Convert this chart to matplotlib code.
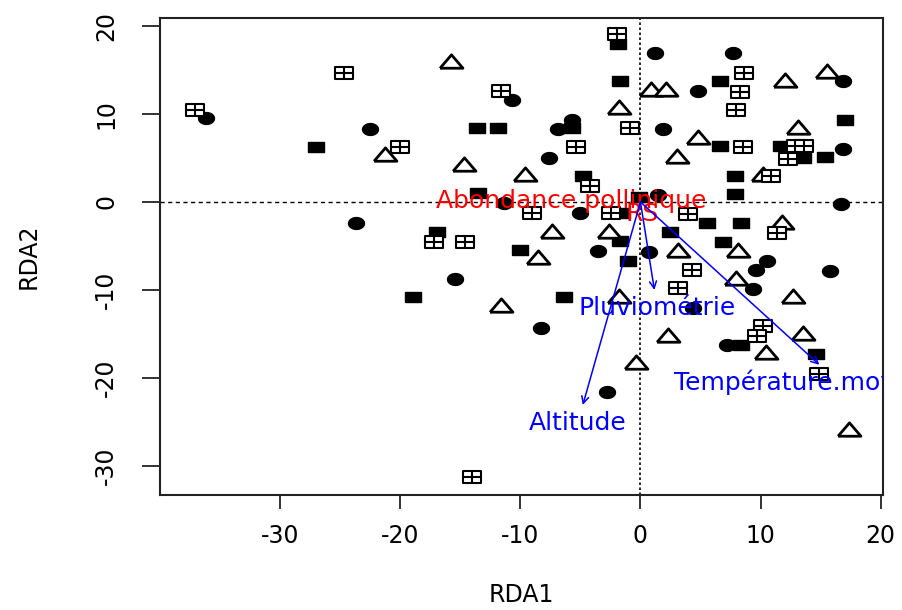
import numpy as np
import matplotlib.pyplot as plt
from matplotlib.path import Path

plt.rcParams['font.family'] = ['DejaVu Sans']
plt.rcParams['axes.unicode_minus'] = False

# site scores, one list pair per symbol group
circle_x = [-36.2, -22.5, -10.7, -6.9, -5.7, -7.6, 1.25, 7.7, 4.8, 16.9, 1.9, 16.9, 16.7, 1.45,
            -11.4, -5.0, 0.75, -3.5, -15.4, -8.25, -23.7, 10.5, 9.6, 15.8, 9.4, 4.4, 7.2, -2.8]
circle_y = [9.5, 8.3, 11.6, 8.3, 9.3, 5.0, 16.9, 16.9, 12.6, 13.7, 8.3, 6.0, -0.2, 0.8,
            -0.15, -1.3, -5.65, -5.6, -8.75, -14.3, -2.4, -6.7, -7.7, -7.85, -9.9, -12.0, -16.25, -21.6]

square_x = [-27.0, -1.9, -1.7, -13.6, -11.9, -5.7, -4.8, -13.5, 6.65, 17.0, 6.65, 11.7, 13.5, 15.4,
            7.9, 7.9, -1.5, -0.1, -16.9, -10.0, -1.7, -1.0, -18.9, -6.4, 5.5, 8.4, 2.5, 6.85, 8.4, 14.65]
square_y = [6.2, 18.0, 13.75, 8.45, 8.45, 8.4, 3.0, 1.0, 13.7, 9.3, 6.3, 6.3, 5.0, 5.15,
            3.0, 0.9, -1.3, 0.6, -3.4, -5.45, -4.4, -6.7, -10.8, -10.8, -2.4, -2.4, -3.45, -4.5, -16.25, -17.3]

tri_x = [-21.3, -15.8, -1.75, 0.9, 2.1, -14.7, -9.6, 12.05, 15.5, 4.8, 13.1, 3.05, 10.2, -7.4,
         -2.6, -8.5, -11.6, -1.75, -0.35, 11.8, 3.1, 8.15, 7.95, 12.7, 2.3, 13.5, 10.45, 17.4]
tri_y = [5.3, 15.9, 10.65, 12.7, 12.7, 4.2, 3.1, 13.75, 14.8, 7.3, 8.4, 5.15, 3.1, -3.4,
         -3.4, -6.4, -11.8, -10.8, -18.3, -2.35, -5.55, -5.55, -8.8, -10.75, -15.2, -15.0, -17.2, -25.9]

boxplus_x = [-37.1, -24.7, -20.0, -1.94, -11.6, -0.9, -5.4, -4.2, 8.65, 8.3, 7.95, 8.5, 12.95, 13.6,
             12.25, 10.85, -9.0, -2.45, -17.2, -14.6, 4.0, 11.35, 4.3, 3.1, 10.2, 9.7, 14.9, -14.05]
boxplus_y = [10.45, 14.7, 6.2, 19.06, 12.6, 8.4, 6.2, 1.85, 14.6, 12.5, 10.45, 6.2, 6.3, 6.3,
             4.9, 2.9, -1.3, -1.3, -4.5, -4.5, -1.4, -3.5, -7.7, -9.8, -14.1, -15.2, -19.6, -31.25]

# species scores (red)
species = ['Abondance pollinique', 'RS']
species_x = [-5.75, 0.1]
species_y = [0.1, -1.4]

# environmental arrows (blue)
env_names = ['Pluviométrie', 'Altitude', 'Température.moyenne']
env_x = [1.16, -4.8, 14.9]
env_y = [-10.0, -23.07, -18.5]
env_lab_x = [1.43, -5.2, 14.6]
env_lab_y = [-12.05, -25.1, -20.45]

# marker shapes (the original output is stretched horizontally)
theta = np.linspace(0, 2 * np.pi, 41)
ellipse = Path(np.column_stack([0.7 * np.cos(theta), 0.52 * np.sin(theta)]))
rect = Path([(-0.75, -0.5), (0.75, -0.5), (0.75, 0.5), (-0.75, 0.5), (-0.75, -0.5)])
tri = Path([(-0.9, -0.45), (0.9, -0.45), (0, 0.6), (-0.9, -0.45)])
bp_verts = [(-0.75, -0.5), (0.75, -0.5), (0.75, 0.5), (-0.75, 0.5), (-0.75, -0.5),
            (-0.75, 0), (0.75, 0), (0, -0.5), (0, 0.5)]
bp_codes = [Path.MOVETO, Path.LINETO, Path.LINETO, Path.LINETO, Path.CLOSEPOLY,
            Path.MOVETO, Path.LINETO, Path.MOVETO, Path.LINETO]
boxplus = Path(bp_verts, bp_codes)

fig = plt.figure(figsize=(9.02, 6.1), dpi=100)
ax = fig.add_axes([0.1774, 0.1885, 0.8016, 0.782])

ax.axhline(0, color='black', lw=1.0, ls=(0, (3, 2.5)), zorder=1)
ax.axvline(0, color='black', lw=1.2, ls=(0, (1.5, 1.5)), zorder=1)

ax.plot(circle_x, circle_y, ls='none', marker=ellipse, ms=11.5, color='black', zorder=3)
ax.plot(square_x, square_y, ls='none', marker=rect, ms=11, color='black', zorder=3)
ax.plot(tri_x, tri_y, ls='none', marker=tri, ms=16.5, mfc='white', mec='black', mew=2.0, zorder=3)
ax.plot(boxplus_x, boxplus_y, ls='none', marker=boxplus, ms=13, mfc='white', mec='black',
        mew=1.5, zorder=3)

for name, x, y in zip(species, species_x, species_y):
    ax.text(x, y, name, color='red', fontsize=18, ha='center', va='center', zorder=4)

for i in range(len(env_names)):
    ax.annotate('', xy=(env_x[i], env_y[i]), xytext=(0, 0), zorder=5,
                arrowprops=dict(arrowstyle='->,head_length=0.5,head_width=0.25',
                                color='blue', lw=1.1, shrinkA=0, shrinkB=0))
    ax.text(env_lab_x[i], env_lab_y[i], env_names[i], color='blue', fontsize=18,
            ha='center', va='center', zorder=5, clip_on=True)

ax.set_xlim(-40, 20.2)
ax.set_ylim(-33.3, 20.9)
ax.set_xticks([-30, -20, -10, 0, 10, 20])
ax.set_yticks([-30, -20, -10, 0, 10, 20])
ax.tick_params(axis='x', length=10, width=1.3, labelsize=17, pad=11, color='#222222')
ax.tick_params(axis='y', length=13, width=1.3, labelsize=17, pad=17, color='#222222')
for lab in ax.get_yticklabels():
    lab.set_rotation(90)
    lab.set_va('center')
for sp in ax.spines.values():
    sp.set_linewidth(1.5)
    sp.set_color('#222222')

ax.set_xlabel('RDA1', fontsize=17)
ax.set_ylabel('RDA2', fontsize=17)
ax.xaxis.set_label_coords(0.5, -0.185)
ax.yaxis.set_label_coords(-0.165, 0.5)

fig.savefig('out.png', dpi=100)
